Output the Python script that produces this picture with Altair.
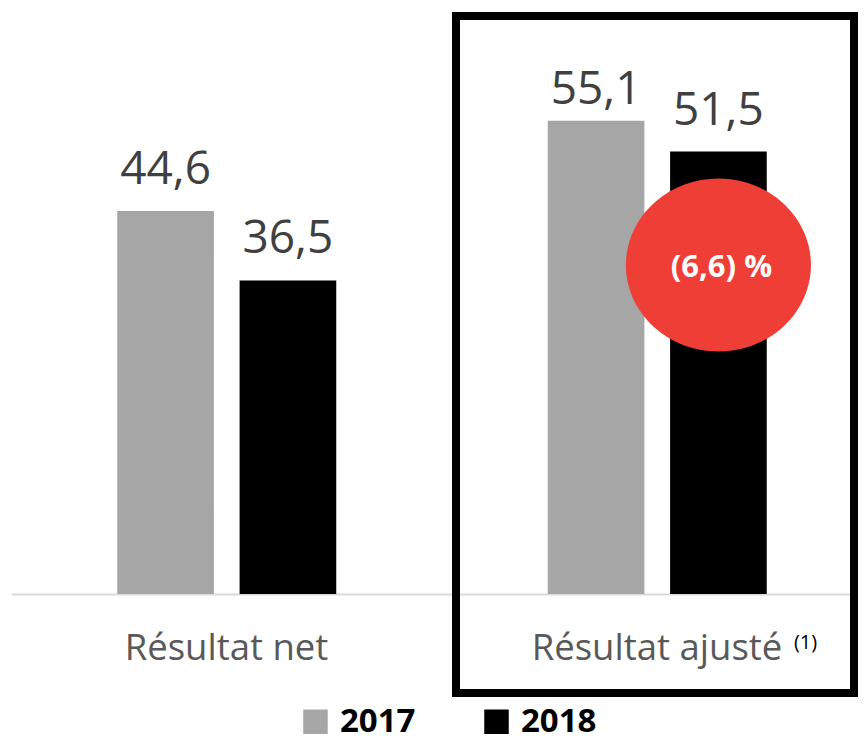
import altair as alt
import pandas as pd

categories = ["Résultat net", "Résultat ajusté"]
years = ["2017", "2018"]
values_2017 = [44.6, 55.1]
values_2018 = [36.5, 51.5]
change_label = "(6,6) %"
footnote = "(1)"

rows = []
for i, c in enumerate(categories):
    for yr, vals in zip(years, [values_2017, values_2018]):
        rows.append({"cat": c, "year": yr, "value": vals[i],
                     "label": f"{vals[i]:.1f}".replace(".", ",")})
df = pd.DataFrame(rows)

x = alt.X("cat:N", sort=categories,
          scale=alt.Scale(domain=categories, range=[3.25, 864.25], paddingInner=0, paddingOuter=0),
          axis=alt.Axis(title=None, ticks=False, labelPadding=36, labelFont="Open Sans",
                        labelFontSize=36.5, labelColor="#595959", domainColor="#D9D9D9",
                        domainWidth=2, labelAngle=0, labelLimit=500, grid=False))
xo = alt.XOffset("year:N", sort=years,
                 scale=alt.Scale(domain=years, range=[106, 325], paddingInner=0.21, paddingOuter=0))
y = alt.Y("value:Q", scale=alt.Scale(domain=[0, 68.22], nice=False, zero=True), axis=None)
color = alt.Color("year:N", sort=years,
                  scale=alt.Scale(domain=years, range=["#A6A6A6", "#000000"]),
                  legend=alt.Legend(title=None, orient="none", legendX=291, legendY=697,
                                    direction="horizontal", symbolType="square", symbolSize=600,
                                    symbolStrokeWidth=0, labelFont="Open Sans", labelFontWeight="bold",
                                    labelFontSize=33, labelColor="#000000", labelOffset=8,
                                    columnPadding=64, symbolOpacity=1))

base = alt.Chart(df)
bars = base.mark_bar().encode(x=x, xOffset=xo, y=y, color=color)
labels = base.mark_text(font="Open Sans", fontSize=46, color="#404040", baseline="alphabetic",
                        dy=-27).encode(x=x, xOffset=xo, y=y, text="label:N").transform_filter(
    "datum.value < 55")
labels_top = base.mark_text(font="Open Sans", fontSize=46, color="#404040", baseline="alphabetic",
                            dy=-17).encode(x=x, xOffset=xo, y=y, text="label:N").transform_filter(
    "datum.value >= 55")

circ_df = pd.DataFrame({"cat": [categories[1]], "year": [years[1]], "label": [change_label]})
ellipse = "M -1 0 A 1 0.935 0 1 1 1 0 A 1 0.935 0 1 1 -1 0 Z"
circle = alt.Chart(circ_df).mark_point(shape=ellipse, size=34225, filled=True, color="#EE3E35",
                                       opacity=1, strokeWidth=0).encode(
    x=x, xOffset=xo, y=alt.value(257))
circle_text = alt.Chart(circ_df).mark_text(font="Open Sans", fontWeight="bold", fontSize=31,
                                           color="white", baseline="alphabetic", dx=3).encode(
    x=x, xOffset=xo, y=alt.value(269), text="label:N")

foot_df = pd.DataFrame({"cat": [categories[1]], "label": [footnote]})
foot = alt.Chart(foot_df).mark_text(font="Open Sans", fontSize=20, color="#000000",
                                    baseline="alphabetic", dx=148.5).encode(
    x=x, y=alt.value(641), text="label:N")

frame_df = pd.DataFrame({"k": [1]})
frame = alt.Chart(frame_df).mark_rect(filled=False, stroke="black", strokeWidth=8).encode(
    x=alt.value(448), x2=alt.value(846), y=alt.value(8), y2=alt.value(685))

chart = alt.layer(frame, bars, labels, labels_top, circle, circle_text, foot).properties(
    width=850, height=586,
    padding={"left": 0, "top": 0, "right": 0, "bottom": 148},
    autosize="none", background="white"
).configure_view(stroke=None)

chart.save("out.html", embed_options={"renderer": "svg", "actions": False})
